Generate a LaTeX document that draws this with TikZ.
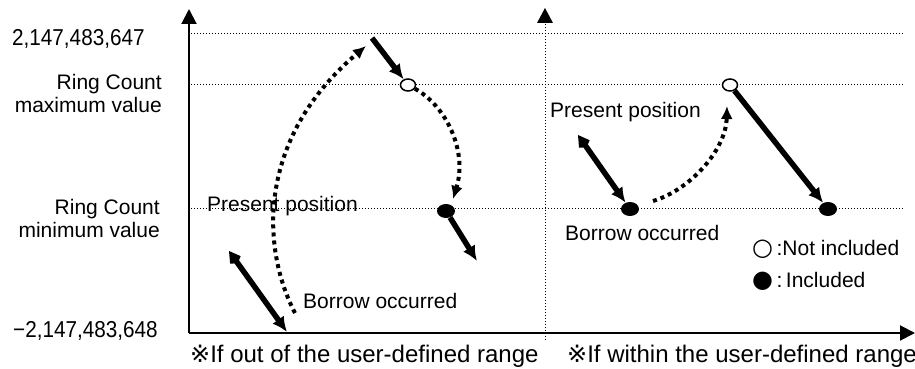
\documentclass[tikz,border=0pt]{standalone}
\usepackage{fontspec}
\setmainfont{Liberation Sans}
\newfontfamily\symfont{DejaVu Sans}
\usetikzlibrary{arrows.meta,shapes.geometric}
\tikzset{
  axisline/.style={line width=2pt},
  gridline/.style={line width=1pt, dash pattern=on 1pt off 2pt},
  thickarr/.style={line width=5.5pt, -{Latex[length=15pt,width=14pt]}},
  tailarr/.style={line width=5.5pt, {Kite[length=15pt,width=13pt,inset=4pt]}-{Latex[length=15pt,width=14pt]}},
  dotarr/.style={line width=4pt, dash pattern=on 4pt off 4pt, -{Latex[length=13pt,width=12pt]}},
  openpt/.style={ellipse, draw, line width=1.5pt, fill=white, minimum width=15pt, minimum height=12pt, inner sep=0pt},
  fillpt/.style={ellipse, fill=black, minimum width=18pt, minimum height=14pt, inner sep=0pt},
  lbl/.style={inner sep=0pt, anchor=base west},
  lblr/.style={inner sep=0pt, anchor=base east},
  caplbl/.style={inner sep=0pt, anchor=base west, font=\fontsize{24}{26}\selectfont},
  numlbl/.style={inner sep=0pt, anchor=base west, font=\fontsize{23}{25}\selectfont},
}
\begin{document}
\begin{tikzpicture}[x=1pt,y=-1pt,font=\fontsize{21}{23}\selectfont]
\useasboundingbox (0,0) rectangle (915,369);
% grid lines
\coordinate (g1l) at (191,34);  \coordinate (g1r) at (904,34);
\coordinate (g2l) at (191,84);  \coordinate (g2r) at (904,84);
\coordinate (g3l) at (191,208); \coordinate (g3r) at (904,208);
\draw[gridline] (g1l) -- (g1r);
\draw[gridline] (g2l) -- (g2r);
\draw[gridline] (g3l) -- (g3r);
% axes
\coordinate (o) at (189,333);
\coordinate (ytop) at (189,9);
\coordinate (xend) at (915,333);
\draw[axisline,-{Triangle[length=15pt,width=15pt]}] (o) -- (ytop);
\draw[axisline,-{Triangle[length=15pt,width=15pt]}] (o) -- (xend);
\coordinate (mbot) at (545,340);
\coordinate (mtop) at (545,22);
\coordinate (mtip) at (545,8);
\draw[gridline] (mbot) -- (mtop);
\fill (mtip) -- ++(-8,15) -- ++(16,0) -- cycle;
% left axis labels
\node[numlbl] (n1) at (12,46) {\scalebox{0.9}[1]{2,147,483,647}};
\node[lblr] (mx1) at (162,89) {Ring Count};
\node[lblr] (mx2) at (162,112) {maximum value};
\node[lblr] (mn1) at (160,214) {Ring Count};
\node[lblr] (mn2) at (160,237) {minimum value};
\node[numlbl] (n2) at (13,337) {\scalebox{0.9}[1]{−2,147,483,648}};
% captions
\node[caplbl] (cap1) at (190,362) {{\symfont ※}If out of the user-defined range};
\node[caplbl] (cap2) at (567,362) {{\symfont ※}If within the user-defined range};
% points
\node[openpt] (c1) at (408,85) {};
\node[fillpt] (f1) at (446,211) {};
\node[fillpt] (f2) at (630,209) {};
\node[openpt] (c2) at (730,85) {};
\node[fillpt] (f3) at (828,209) {};
% left panel arrows
\coordinate (a1s) at (229,251);
\coordinate (a1e) at (287,332);
\draw[tailarr] (a1s) -- (a1e);
\coordinate (d1s) at (295,313);
\coordinate (d1e) at (366,46);
\draw[dotarr] (d1s) .. controls (262,250) and (255,140) .. (d1e);
\coordinate (a2s) at (372,38);
\draw[thickarr] (a2s) -- (c1);
\coordinate (d2e) at (453,199);
\draw[dotarr] (c1) .. controls (445,105) and (468,150) .. (d2e);
\coordinate (a3e) at (477,261);
\draw[thickarr] (f1) -- (a3e);
% right panel arrows
\coordinate (a4s) at (578,135);
\draw[tailarr] (a4s) -- (f2);
\coordinate (d3s) at (653,201);
\coordinate (d3e) at (727,106);
\draw[dotarr] (d3s) .. controls (690,190) and (726,150) .. (d3e);
\draw[thickarr] (c2) -- (f3);
% texts
\node[lbl] (pp1) at (207,211) {Present position};
\node[lbl] (bo1) at (303,308) {Borrow occurred};
\node[lbl] (pp2) at (550,117) {Present position};
\node[lbl] (bo2) at (565,240) {Borrow occurred};
\node[lbl] (lg1) at (752,255) {{\symfont\fontsize{24}{26}\selectfont ○}\,:Not included};
\node[lbl] (lg2) at (752,287) {{\symfont\fontsize{24}{26}\selectfont ●}\,:\,Included};
\end{tikzpicture}
\end{document}
